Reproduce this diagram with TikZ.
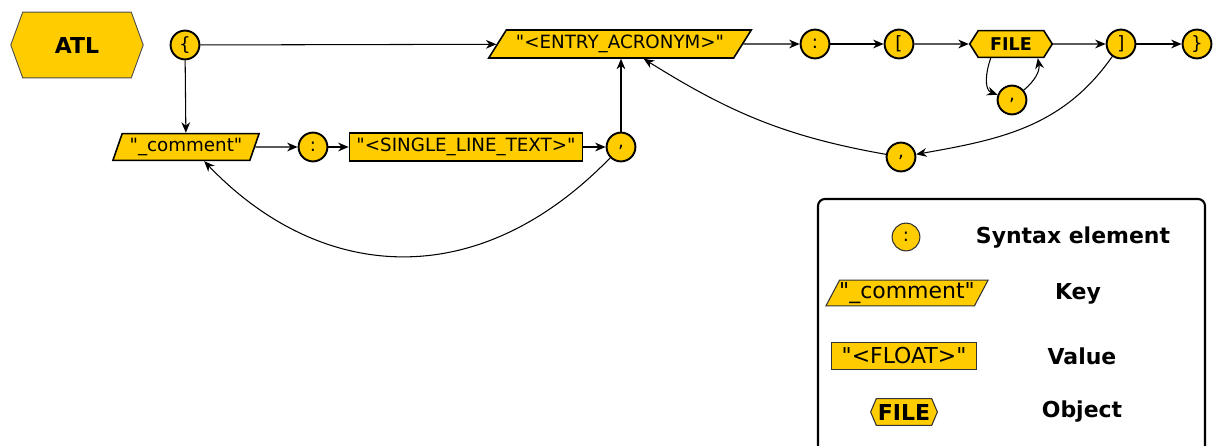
\documentclass[tikz,border=0pt]{standalone}
\usepackage{fontspec}
\setmainfont{DejaVu Sans}[Ligatures=TeXOff]
\usepackage{tikz}
\usetikzlibrary{arrows.meta,shapes.geometric,shapes.symbols}
\definecolor{atlyellow}{HTML}{FFCC00}

\begin{document}
\begin{tikzpicture}[x=0.02cm, y=0.02cm, >={Stealth[length=6pt,width=5pt]},
    syntax/.style={circle, draw, line width=1.1pt, fill=atlyellow, minimum size=16.4pt, inner sep=0pt, font=\fontsize{10.4}{12}\selectfont},
    key/.style={trapezium, trapezium stretches=true, draw, line width=0.9pt, fill=atlyellow, inner sep=0pt, font=\fontsize{10.4}{12}\selectfont},
    value/.style={rectangle, draw, line width=0.9pt, fill=atlyellow, inner sep=0pt, font=\fontsize{10.4}{12}\selectfont},
    object/.style={signal, signal to=west and east, draw, line width=0.9pt, fill=atlyellow, inner sep=0pt, font=\bfseries\fontsize{10}{12}\selectfont},
    link/.style={->, line width=0.6pt},
    legend/.style={line width=0.6pt, draw=black!80, font=\fontsize{12.5}{15}\selectfont},
    legendtext/.style={font=\bfseries\fontsize{12.5}{15}\selectfont}]
    \useasboundingbox (0,0) rectangle (1220,-446);

    \node[object, minimum width=75.4pt, minimum height=37.4pt, signal pointer angle=140, draw=black!70, line width=0.5pt, font=\bfseries\fontsize{12.5}{15}\selectfont] (atl) at (77,-45) {ATL};

    \node[syntax] (lb) at (185,-45) {\{};
    \node[key, minimum width=83.9pt, minimum height=15.3pt, trapezium left angle=65, trapezium right angle=115] (cmt) at (186,-147) {"\_comment"};
    \node[syntax] (c1) at (313,-147) {:};
    \node[value, minimum width=132.7pt, minimum height=15.9pt] (slt) at (466,-147) {"<SINGLE\_LINE\_TEXT>"};
    \node[syntax] (c2) at (621,-147) {,};
    \node[key, minimum width=149.7pt, minimum height=15.9pt, trapezium left angle=48, trapezium right angle=132] (entry) at (620,-44) {"<ENTRY\_ACRONYM>"};
    \node[syntax] (c3) at (815,-44) {:};
    \node[syntax] (lsq) at (899,-44) {[};
    \node[object, minimum width=47pt, minimum height=15.3pt, signal pointer angle=115] (file) at (1011,-44) {FILE};
    \node[syntax] (c4) at (1012,-100) {,};
    \node[syntax] (rsq) at (1121,-44) {]};
    \node[syntax] (rb) at (1197,-44) {\}};
    \node[syntax] (c5) at (901,-157) {,};

    \path[link]
        (lb) edge (entry)
             edge (cmt)
        (cmt) edge (c1)
        (c1) edge (slt)
        (slt) edge (c2)
        (c2) edge (c2 |- entry.south)
        (entry) edge (c3)
        (c3) edge (lsq)
        (lsq) edge (file)
        (file) edge (rsq)
        (rsq) edge (rb)
        (rsq) edge [out=-125, in=10] (c5)
        (c5) edge [out=170, in=-32] (entry.-32)
        (file.-145) edge [out=-110, in=160] (c4)
        (c4) edge [out=40, in=-80] (file.-28)
        ;
    \draw[link] (c2.-135) .. controls (476,-296) and (319,-281) .. (cmt.-38);

    \draw[line width=1.2pt, rounded corners=4pt] (818,-199) rectangle (1205,-470);
    \node[syntax, legend, minimum size=15.8pt, font=\fontsize{10.4}{12}\selectfont] (lsyn) at (906,-237) {:};
    \node[legendtext] (tsyn) at (1073,-238) {Syntax element};
    \node[key, legend, minimum width=93pt, minimum height=14.7pt, trapezium left angle=57, trapezium right angle=123] (lkey) at (907,-293) {"\_comment"};
    \node[legendtext] (tkey) at (1078,-294) {Key};
    \node[value, legend, minimum width=82.8pt, minimum height=15.3pt] (lval) at (904,-356) {"<FLOAT>"};
    \node[legendtext] (tval) at (1082,-356) {Value};
    \node[object, legend, minimum width=38pt, minimum height=15.3pt, signal pointer angle=134, font=\bfseries\fontsize{12.5}{15}\selectfont] (lobj) at (904,-412) {FILE};
    \node[legendtext] (tobj) at (1082,-412) {Object};
\end{tikzpicture}
\end{document}
